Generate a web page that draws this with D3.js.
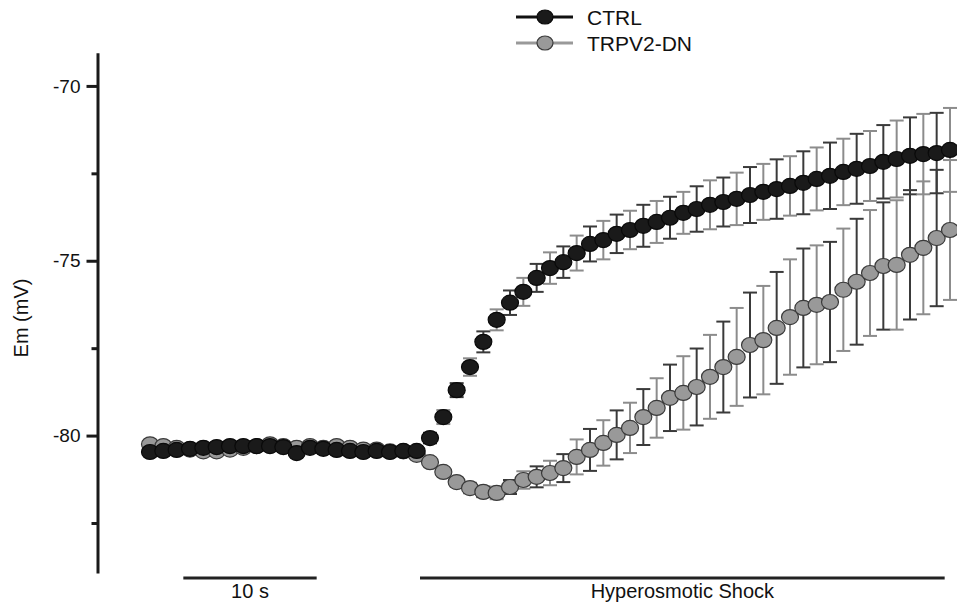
<!DOCTYPE html>
<html>
<head>
<meta charset="utf-8">
<script src="https://cdn.jsdelivr.net/npm/d3@7"></script>
<style>
  body { margin: 0; background: #fff; }
  svg { display: block; font-family: "Liberation Sans", Arial, Helvetica, sans-serif; }
</style>
</head>
<body>
<div id="chart"></div>
<script>
// time (s), one sample per second
const times = [0, 1, 2, 3, 4, 5, 6, 7, 8, 9, 10, 11, 12, 13, 14, 15, 16, 17, 18, 19, 20,
  21, 22, 23, 24, 25, 26, 27, 28, 29, 30, 31, 32, 33, 34, 35, 36, 37, 38, 39, 40,
  41, 42, 43, 44, 45, 46, 47, 48, 49, 50, 51, 52, 53, 54, 55, 56, 57, 58, 59, 60];

const ctrlMean = [-80.47, -80.44, -80.41, -80.38, -80.35, -80.33, -80.30, -80.30, -80.30, -80.30,
  -80.33, -80.50, -80.35, -80.38, -80.41, -80.44, -80.47, -80.44, -80.47, -80.44, -80.44,
  -80.07, -79.47, -78.70, -78.04, -77.32, -76.69, -76.20, -75.89, -75.49, -75.21,
  -75.04, -74.78, -74.52, -74.41, -74.23, -74.12, -74.00, -73.89, -73.77, -73.63,
  -73.52, -73.40, -73.32, -73.23, -73.12, -73.03, -72.95, -72.86, -72.77, -72.66,
  -72.57, -72.46, -72.37, -72.29, -72.17, -72.09, -72.00, -71.95, -71.92, -71.83];

const ctrlSem = [0.1, 0.1, 0.1, 0.1, 0.1, 0.1, 0.1, 0.1, 0.1, 0.1,
  0.1, 0.1, 0.1, 0.1, 0.1, 0.1, 0.1, 0.1, 0.1, 0.1, 0.1,
  0.15, 0.2, 0.2, 0.25, 0.3, 0.3, 0.35, 0.4, 0.4, 0.45,
  0.45, 0.5, 0.5, 0.55, 0.55, 0.55, 0.6, 0.6, 0.6, 0.6,
  0.65, 0.7, 0.7, 0.75, 0.8, 0.8, 0.85, 0.85, 0.9, 0.9,
  0.95, 0.95, 1.0, 1.0, 1.05, 1.1, 1.1, 1.15, 1.15, 1.2];

const trpvMean = [-80.25, -80.30, -80.35, -80.40, -80.45, -80.45, -80.40, -80.35, -80.30, -80.25,
  -80.30, -80.35, -80.30, -80.35, -80.30, -80.35, -80.40, -80.40, -80.45, -80.45, -80.55,
  -80.76, -81.04, -81.33, -81.50, -81.61, -81.64, -81.47, -81.27, -81.18, -81.07,
  -80.93, -80.61, -80.41, -80.21, -79.98, -79.78, -79.47, -79.21, -78.92, -78.78,
  -78.61, -78.32, -78.04, -77.75, -77.41, -77.27, -76.92, -76.61, -76.35, -76.26,
  -76.18, -75.83, -75.60, -75.35, -75.15, -75.12, -74.83, -74.63, -74.35, -74.12];

const trpvSem = [0.1, 0.1, 0.1, 0.1, 0.1, 0.1, 0.1, 0.1, 0.1, 0.1,
  0.1, 0.1, 0.1, 0.1, 0.1, 0.1, 0.1, 0.1, 0.1, 0.1, 0.1,
  0.1, 0.1, 0.12, 0.15, 0.15, 0.18, 0.2, 0.25, 0.3, 0.35,
  0.4, 0.5, 0.6, 0.65, 0.7, 0.72, 0.8, 0.85, 0.95, 1.05,
  1.1, 1.2, 1.3, 1.4, 1.5, 1.55, 1.6, 1.65, 1.7, 1.7,
  1.72, 1.75, 1.8, 1.8, 1.82, 1.85, 1.85, 1.9, 1.95, 2.0];

const majorTicks = [-80, -75, -70];
const minorTicks = [-82.5, -77.5, -72.5];
const seriesNames = ['CTRL', 'TRPV2-DN'];

// scale bar and stimulus bar (seconds)
const scaleBar = { from: 2.5, to: 12.5, label: '10 s' };
const shockBar = { from: 20.25, to: 59.6, label: 'Hyperosmotic Shock' };

const width = 957, height = 604;

const svg = d3.select('#chart')
  .append('svg')
    .attr('width', width)
    .attr('height', height);

const x = d3.scaleLinear()
  .domain([0, 60])
  .range([150, 950]);

const y = d3.scaleLinear()
  .domain([-83.93, -69.05])
  .range([573, 52.7]);

const series = [
  { name: seriesNames[1], mean: trpvMean, sem: trpvSem, fill: '#999999', stroke: '#3a3a3a' },
  { name: seriesNames[0], mean: ctrlMean, sem: ctrlSem, fill: '#1a1a1a', stroke: '#0a0a0a' }
];

// Y axis (hyphen minus, as in the figure)
const yAxis = svg.append('g')
  .attr('transform', `translate(${97.5},0)`)
  .call(d3.axisLeft(y).tickValues(majorTicks).tickSize(11).tickSizeOuter(0).tickPadding(6)
    .tickFormat(d => String(d)));
yAxis.select('.domain').attr('stroke', '#1a1a1a').attr('stroke-width', 3);
yAxis.selectAll('.tick line').attr('stroke', '#1a1a1a').attr('stroke-width', 3);
yAxis.selectAll('.tick text')
  .attr('fill', '#111')
  .style('font-size', '19px')
  .style('font-family', '"Liberation Sans", Arial, sans-serif');

const yMinor = svg.append('g')
  .attr('transform', `translate(${97.5},0)`)
  .call(d3.axisLeft(y).tickValues(minorTicks).tickSize(6).tickFormat(''));
yMinor.select('.domain').remove();
yMinor.selectAll('.tick line').attr('stroke', '#1a1a1a').attr('stroke-width', 3);

svg.append('text')
  .attr('transform', `translate(28,${318}) rotate(-90)`)
  .attr('text-anchor', 'middle')
  .attr('fill', '#111')
  .style('font-size', '20px')
  .text('Em (mV)');

// Error bars
const capW = 14;
series.forEach(s => {
  const g = svg.append('g');
  times.forEach((t, i) => {
    const col = i % 2 === 0 ? '#8c8c8c' : '#3a3a3a';
    const cx = x(t), top = y(s.mean[i] + s.sem[i]), bot = y(s.mean[i] - s.sem[i]);
    g.append('line').attr('x1', cx).attr('x2', cx).attr('y1', top).attr('y2', bot)
      .attr('stroke', col).attr('stroke-width', 2);
    [top, bot].forEach(yy => {
      g.append('line').attr('x1', cx - capW / 2).attr('x2', cx + capW / 2)
        .attr('y1', yy).attr('y2', yy)
        .attr('stroke', col).attr('stroke-width', 2);
    });
  });
});

// Points
series.forEach(s => {
  svg.append('g')
    .selectAll('ellipse')
    .data(times)
    .enter().append('ellipse')
      .attr('cx', t => x(t))
      .attr('cy', (t, i) => y(s.mean[i]))
      .attr('rx', 8.5)
      .attr('ry', 7.5)
      .attr('fill', s.fill)
      .attr('stroke', s.stroke)
      .attr('stroke-width', 1.2);
});

// Legend
const legend = svg.append('g').attr('transform', 'translate(516,17)');
const legendItems = [
  { name: seriesNames[0], line: '#111', fill: '#1a1a1a', stroke: '#0a0a0a' },
  { name: seriesNames[1], line: '#999', fill: '#999999', stroke: '#3a3a3a' }
];
legendItems.forEach((d, i) => {
  const g = legend.append('g').attr('transform', `translate(0,${i * 26})`);
  g.append('line').attr('x1', 0).attr('x2', 57).attr('y1', 0).attr('y2', 0)
    .attr('stroke', d.line).attr('stroke-width', 3);
  g.append('ellipse').attr('cx', 29).attr('cy', 0).attr('rx', 8).attr('ry', 7)
    .attr('fill', d.fill).attr('stroke', d.stroke).attr('stroke-width', 1.2);
  g.append('text').attr('x', 71).attr('y', 7.5)
    .attr('fill', '#111')
    .style('font-size', '21px')
    .text(d.name);
});

// Scale bar and stimulus bar
[scaleBar, shockBar].forEach(b => {
  svg.append('line')
    .attr('x1', x(b.from)).attr('x2', x(b.to))
    .attr('y1', 578).attr('y2', 578)
    .attr('stroke', '#222').attr('stroke-width', 3);
  svg.append('text')
    .attr('x', (x(b.from) + x(b.to)) / 2)
    .attr('y', 598)
    .attr('text-anchor', 'middle')
    .attr('fill', '#111')
    .style('font-size', '20px')
    .style('font-family', '"Liberation Sans Narrow", "Liberation Sans", Arial, sans-serif')
    .text(b.label);
});
</script>
</body>
</html>
